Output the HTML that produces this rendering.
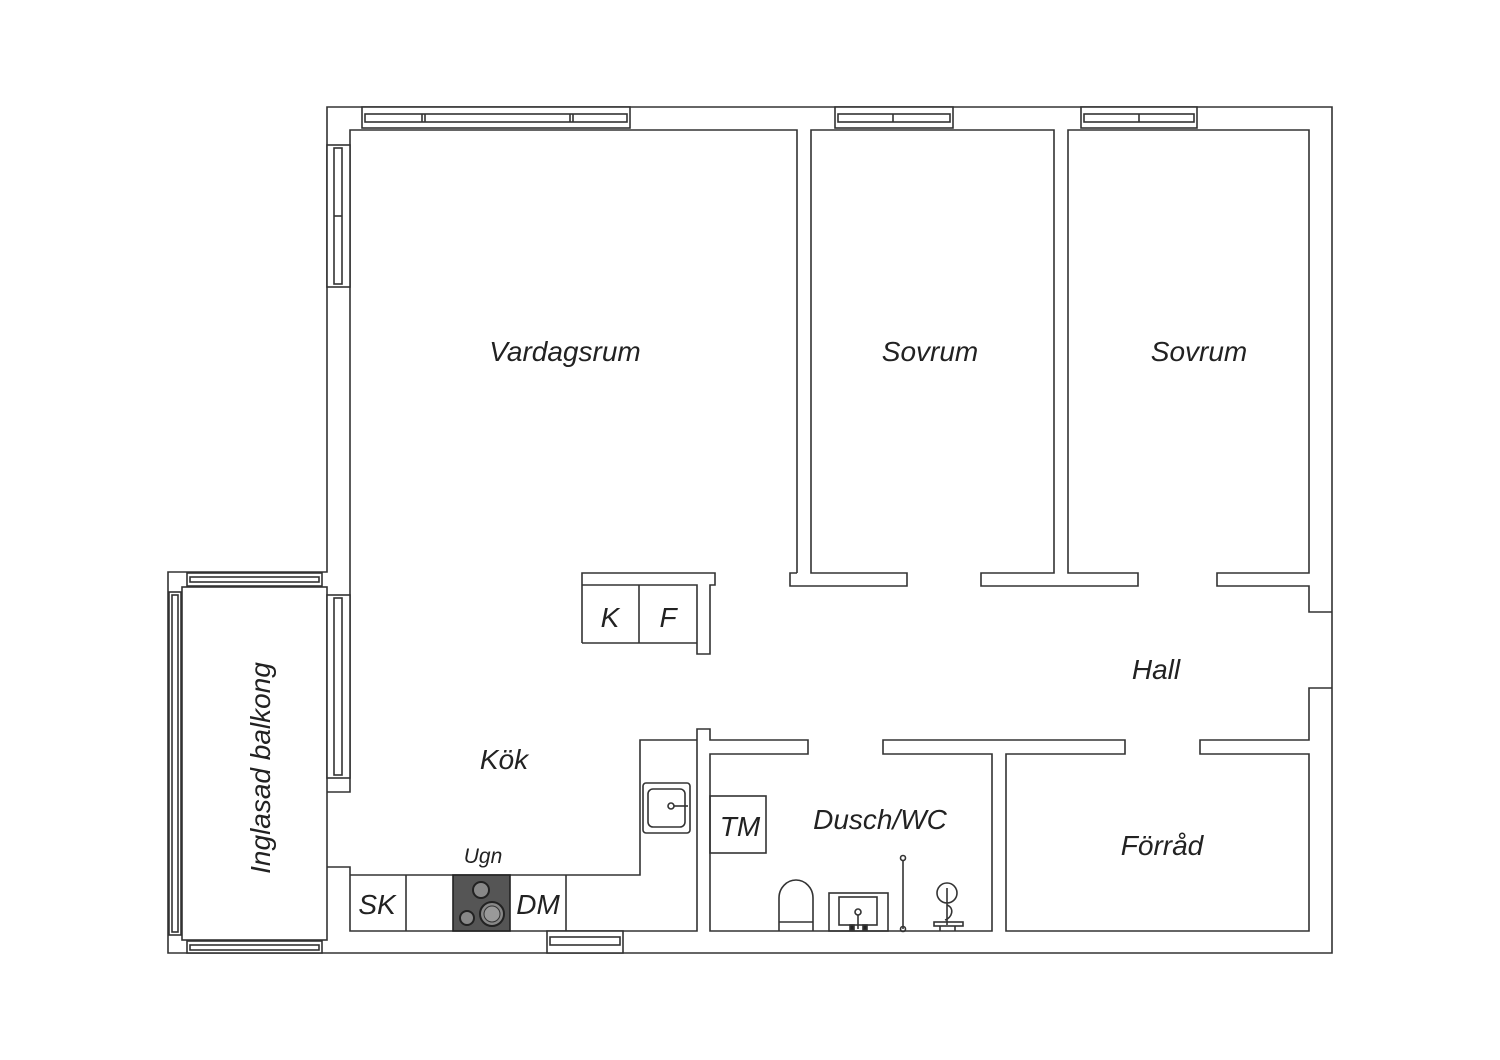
<!DOCTYPE html>
<html><head><meta charset="utf-8"><style>
html,body{margin:0;padding:0;background:#fff}
svg{display:block}
text{font-family:"Liberation Sans",sans-serif;font-style:italic;fill:#222}
</style></head><body>
<svg width="1500" height="1060" viewBox="0 0 1500 1060" xmlns="http://www.w3.org/2000/svg">
<g fill="none" stroke="#333" stroke-width="1.6" stroke-linejoin="miter">
<polygon points="327,107 1332,107 1332,953 168,953 168,572 327,572" fill="#fff"/>
<rect x="182" y="587" width="145" height="353"/>
<polyline points="797,573 797,130 350,130 350,792 327,792"/>
<polyline points="327,867 350,867 350,931 697,931 697,729 710,729 710,740 808,740 808,754 710,754 710,931 992,931 992,754 883,754 883,740 1125,740 1125,754 1006,754 1006,931 1309,931 1309,754 1200,754 1200,740 1309,740 1309,688 1332,688"/>
<polyline points="1332,612 1309,612 1309,586 1217,586 1217,573 1309,573 1309,130 1068,130 1068,573 1138,573 1138,586 981,586 981,573 1054,573 1054,130 811,130 811,573 907,573 907,586 790,586 790,573 797,573"/>
<!-- windows top -->
<rect x="362" y="107" width="268" height="21" fill="#fff"/>
<rect x="365" y="114" width="262" height="8"/>
<line x1="422" y1="114" x2="422" y2="122"/><line x1="425" y1="114" x2="425" y2="122"/>
<line x1="570" y1="114" x2="570" y2="122"/><line x1="573" y1="114" x2="573" y2="122"/>
<rect x="835" y="107" width="118" height="21" fill="#fff"/>
<rect x="838" y="114" width="112" height="8"/>
<line x1="893" y1="114" x2="893" y2="122"/>
<rect x="1081" y="107" width="116" height="21" fill="#fff"/>
<rect x="1084" y="114" width="110" height="8"/>
<line x1="1139" y1="114" x2="1139" y2="122"/>
<!-- west windows -->
<rect x="327" y="145" width="23" height="142" fill="#fff"/>
<rect x="334" y="148" width="8" height="136"/>
<line x1="334" y1="216" x2="342" y2="216"/>
<rect x="327" y="595" width="23" height="183" fill="#fff"/>
<rect x="334" y="598" width="8" height="177"/>
<!-- balcony windows -->
<rect x="187" y="573" width="135" height="13" fill="#fff"/>
<rect x="190" y="577" width="129" height="5"/>
<rect x="187" y="941" width="135" height="12" fill="#fff"/>
<rect x="190" y="945" width="129" height="5"/>
<rect x="169" y="592" width="12" height="343" fill="#fff"/>
<rect x="172" y="595" width="6" height="337"/>
<!-- bottom kitchen window -->
<rect x="547" y="931" width="76" height="22" fill="#fff"/>
<rect x="550" y="937" width="70" height="8"/>
<!-- K/F -->
<polyline points="582,643 582,573 715,573 715,585 710,585 710,654 697,654 697,585 582,585"/>
<line x1="582" y1="643" x2="697" y2="643"/>
<line x1="639" y1="585" x2="639" y2="643"/>
<!-- kitchen counter -->
<polyline points="350,875 640,875 640,740 697,740"/>
<line x1="406" y1="875" x2="406" y2="931"/>
<line x1="566" y1="875" x2="566" y2="931"/>
<rect x="453" y="875" width="57" height="56" fill="#555" stroke="#222"/>
<circle cx="481" cy="890" r="8" fill="#888" stroke="#222" stroke-width="2"/>
<circle cx="492" cy="914" r="12" fill="#888" stroke="#222" stroke-width="2"/>
<circle cx="492" cy="914" r="8" fill="#999" stroke="#333" stroke-width="1"/>
<circle cx="467" cy="918" r="7" fill="#888" stroke="#222" stroke-width="2"/>
<!-- sink -->
<rect x="643" y="783" width="47" height="50" rx="3"/>
<rect x="648" y="789" width="37" height="38" rx="5"/>
<circle cx="671" cy="806" r="3"/>
<line x1="674" y1="806" x2="688" y2="806"/>
<!-- bathroom -->
<rect x="710" y="796" width="56" height="57"/>
<path d="M779,931 L779,898 A17,18 0 0 1 813,898 L813,931"/>
<line x1="779" y1="922" x2="813" y2="922"/>
<rect x="829" y="893" width="59" height="38"/>
<rect x="839" y="897" width="38" height="28"/>
<circle cx="858" cy="912" r="3"/>
<line x1="858" y1="915" x2="858" y2="929"/>
<rect x="850" y="925" width="4" height="5" fill="#222"/>
<rect x="863" y="925" width="4" height="5" fill="#222"/>
<line x1="903" y1="860" x2="903" y2="929"/>
<circle cx="903" cy="858" r="2.5"/><circle cx="903" cy="929" r="2.5"/>
<circle cx="947" cy="893" r="10"/>
<line x1="947" y1="888" x2="947" y2="925"/>
<path d="M947,905 C955,908 952,918 945,920"/>
<rect x="934" y="922" width="29" height="4"/>
<line x1="940" y1="926" x2="940" y2="931"/><line x1="955" y1="926" x2="955" y2="931"/>
</g>
<g font-size="28">
<text x="565" y="361" text-anchor="middle">Vardagsrum</text>
<text x="930" y="361" text-anchor="middle">Sovrum</text>
<text x="1199" y="361" text-anchor="middle">Sovrum</text>
<text x="1156" y="679" text-anchor="middle">Hall</text>
<text x="504" y="769" text-anchor="middle">Kök</text>
<text x="377" y="914" text-anchor="middle">SK</text>
<text x="538" y="914" text-anchor="middle">DM</text>
<text x="610" y="627" text-anchor="middle">K</text>
<text x="668" y="627" text-anchor="middle">F</text>
<text x="740" y="836" text-anchor="middle">TM</text>
<text x="880" y="829" text-anchor="middle">Dusch/WC</text>
<text x="1162" y="855" text-anchor="middle">Förråd</text>
<text x="0" y="0" text-anchor="middle" transform="translate(270,768) rotate(-90)">Inglasad balkong</text>
</g>
<text x="483" y="863" font-size="21" text-anchor="middle">Ugn</text>
</svg>
</body></html>
